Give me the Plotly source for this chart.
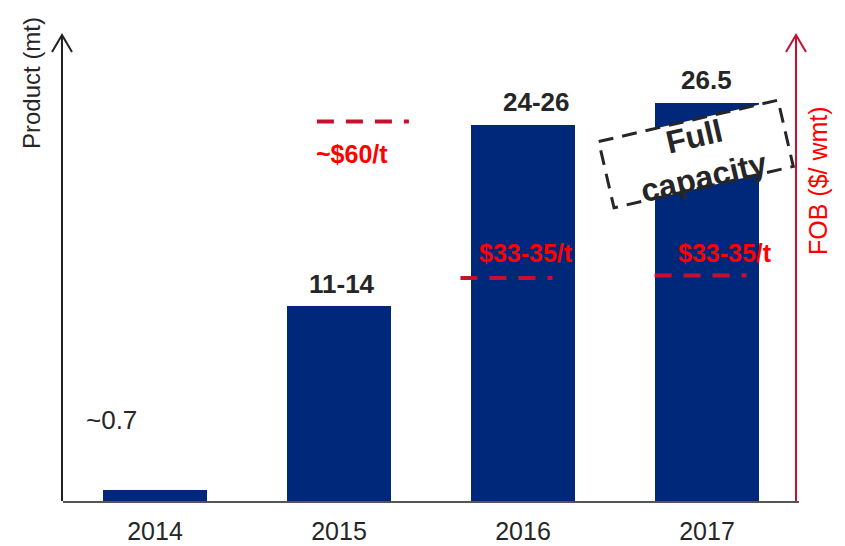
import math
import plotly.graph_objects as go

# --- data ---
years = ["2014", "2015", "2016", "2017"]
product_mt = [0.7, 13, 25, 26.5]
product_labels = ["~0.7", "11-14", "24-26", "26.5"]

fob_years = ["2015", "2016", "2017"]
fob_price = [60, 34, 34.4]
fob_labels = ["~$60/t", "$33-35/t", "$33-35/t"]

# --- styling ---
W, H = 845, 546
L, R, T, B = 63, 46, 35, 45
PLOT_W, PLOT_H = W - L - R, H - T - B

BAR_COLOR = "#00287a"
DASH_RED = "#c8102e"
TEXT_RED = "#ff0000"
TEXT_DARK = "#262626"
FONT = "Liberation Sans, Arial, sans-serif"

# where each dashed price segment sits relative to its year (in category units)
fob_offsets = [0.13, -0.09, -0.035]
fob_label_dx = [0.07, 0.016, 0.10]
fob_label_dy = [-32, 25, 23]


def px_to_paper(px, py):
    return (px - L) / PLOT_W, (H - B - py) / PLOT_H


xpos = list(range(len(years)))

fig = go.Figure()
fig.add_trace(go.Bar(
    x=xpos, y=product_mt, width=0.56,
    marker={"color": BAR_COLOR, "line": {"width": 0}},
    showlegend=False, hoverinfo="skip",
))

for yr, price, off in zip(fob_years, fob_price, fob_offsets):
    cx = years.index(yr) + off
    fig.add_trace(go.Scatter(
        x=[cx - 0.25, cx + 0.25], y=[price, price], yaxis="y2",
        mode="lines", line={"color": DASH_RED, "width": 4, "dash": "17px,12px"},
        showlegend=False, hoverinfo="skip",
    ))

# value labels above bars
label_shift = [(-44, 53), (3, 5), (13, 6), (-1, 6)]
for i, (v, txt) in enumerate(zip(product_mt, product_labels)):
    dx, dy = label_shift[i]
    fig.add_annotation(
        x=i, y=v, text=f"<b>{txt}</b>" if i > 0 else txt,
        showarrow=False, xanchor="center", yanchor="bottom", xshift=dx, yshift=dy,
        font={"size": 26, "color": TEXT_DARK, "family": FONT},
    )

for yr, price, txt, dx, dy in zip(fob_years, fob_price, fob_labels, fob_label_dx, fob_label_dy):
    fig.add_annotation(
        x=years.index(yr) + dx, y=price, yref="y2", text=f"<b>{txt}</b>",
        showarrow=False, xanchor="center", yanchor="middle", yshift=dy,
        font={"size": 25, "color": TEXT_RED, "family": FONT},
    )

# axis lines with open arrow heads
def arrow_axis(px, color):
    x0, y0 = px_to_paper(px, H - B)
    x1, y1 = px_to_paper(px, 35)
    xl, yh = px_to_paper(px - 10, 52)
    xr, _ = px_to_paper(px + 10, 52)
    fig.add_shape(type="line", xref="paper", yref="paper", x0=x0, y0=y0, x1=x1, y1=y1,
                  line={"color": color, "width": 2})
    fig.add_shape(type="path", xref="paper", yref="paper",
                  path=f"M {xl} {yh} L {x1} {y1} L {xr} {yh}",
                  line={"color": color, "width": 2})

arrow_axis(62, "#222222")
arrow_axis(796, DASH_RED)

# axis titles
tx, ty = px_to_paper(32, 83)
fig.add_annotation(x=tx, y=ty, xref="paper", yref="paper", text="Product (mt)",
                   textangle=-90, showarrow=False, xanchor="center", yanchor="middle",
                   font={"size": 24, "color": TEXT_DARK, "family": FONT})
tx, ty = px_to_paper(818, 181)
fig.add_annotation(x=tx, y=ty, xref="paper", yref="paper", text="FOB ($/ wmt)",
                   textangle=-90, showarrow=False, xanchor="center", yanchor="middle",
                   font={"size": 25, "color": TEXT_RED, "family": FONT})

# rotated dashed "Full capacity" box
cx, cy, hw, hh, ang = 696, 154, 92, 34, math.radians(13)
ux, uy = math.cos(ang), -math.sin(ang)
vx, vy = math.sin(ang), math.cos(ang)
corners = [(-hw, -hh), (hw, -hh), (hw, hh), (-hw, hh)]
pts = [px_to_paper(cx + a * ux + b * vx, cy + a * uy + b * vy) for a, b in corners]
path = "M " + " L ".join(f"{x} {y}" for x, y in pts) + " Z"
fig.add_shape(type="path", xref="paper", yref="paper", path=path,
              fillcolor="white", line={"color": TEXT_DARK, "width": 3, "dash": "15px,9px"},
              layer="above")
tx, ty = px_to_paper(cx + 3, cy + 3)
fig.add_annotation(x=tx, y=ty, xref="paper", yref="paper", text="<b>Full<br>capacity</b>",
                   textangle=-13, showarrow=False, xanchor="center", yanchor="middle",
                   font={"size": 32, "color": TEXT_DARK, "family": FONT})

fig.update_layout(
    width=W, height=H,
    margin={"l": L, "r": R, "t": T, "b": B},
    paper_bgcolor="white", plot_bgcolor="white",
    bargap=0,
    xaxis={
        "range": [-0.5, 3.5], "tickvals": xpos, "ticktext": years,
        "showline": True, "linecolor": "#555555", "linewidth": 2,
        "showgrid": False, "zeroline": False, "ticks": "",
        "ticklabelstandoff": 7, "automargin": False,
        "tickfont": {"size": 25, "color": TEXT_DARK, "family": FONT},
        "fixedrange": True,
    },
    yaxis={"range": [0, 31], "visible": False, "fixedrange": True, "automargin": False},
    yaxis2={"range": [-3.1, 74.4], "overlaying": "y", "side": "right",
            "visible": False, "fixedrange": True, "automargin": False},
)

fig.write_html("out.html", config={"displayModeBar": False},
               post_script="document.body.style.margin='0px';")
